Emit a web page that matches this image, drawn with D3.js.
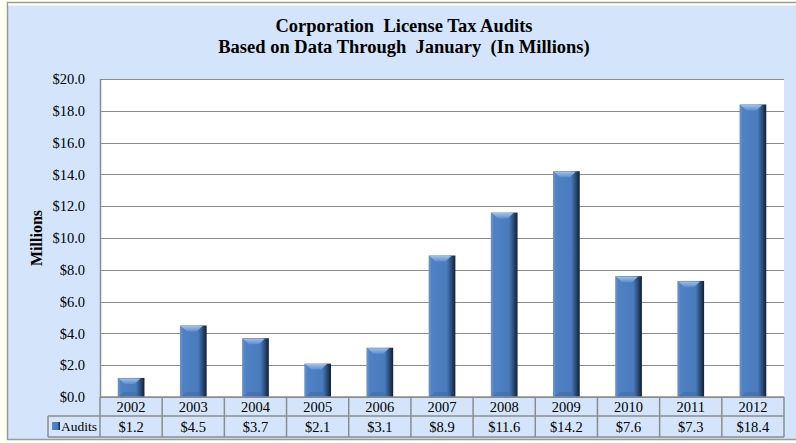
<!DOCTYPE html>
<html>
<head>
<meta charset="utf-8">
<script src="https://cdn.jsdelivr.net/npm/d3@7"></script>
<style>
  body { margin: 0; background: #fffff2; }
  svg { display: block; }
  text { font-family: "Liberation Serif", "Times New Roman", serif; fill: #000; }
</style>
</head>
<body>
<div id="chart"></div>
<script>
const years = ["2002","2003","2004","2005","2006","2007","2008","2009","2010","2011","2012"]
const audits = [1.2, 4.5, 3.7, 2.1, 3.1, 8.9, 11.6, 14.2, 7.6, 7.3, 18.4]
const yTicks = [0, 2, 4, 6, 8, 10, 12, 14, 16, 18, 20]
const titleLines = ["Corporation  License Tax Audits", "Based on Data Through  January  (In Millions)"]
const seriesName = "Audits"

const W = 796, H = 443
const plot = {left: 100, right: 784, top: 79, bottom: 397}
const rowH1 = 19, rowH2 = 21, legendLeft = 48

const svg = d3.select("#chart").append("svg")
  .attr("width", W).attr("height", H)

const defs = svg.append("defs")
let grad = defs.append("linearGradient").attr("id", "barGrad")
  .attr("x1", 0).attr("x2", 1).attr("y1", 0).attr("y2", 0)
grad.append("stop").attr("offset", "0%").attr("stop-color", "#6a97d2")
grad.append("stop").attr("offset", "12%").attr("stop-color", "#4f81c4")
grad.append("stop").attr("offset", "68%").attr("stop-color", "#4a7bbd")
grad.append("stop").attr("offset", "84%").attr("stop-color", "#2c4f7a")
grad.append("stop").attr("offset", "100%").attr("stop-color", "#121f33")

let capGrad = defs.append("linearGradient").attr("id", "capGrad")
  .attr("x1", 0).attr("x2", 0).attr("y1", 0).attr("y2", 1)
capGrad.append("stop").attr("offset", "0%").attr("stop-color", "#a9c8f0")
capGrad.append("stop").attr("offset", "100%").attr("stop-color", "#5f90d0")

// chart frame
svg.append("rect")
  .attr("x", 7.5).attr("y", 2.5).attr("width", W).attr("height", 437)
  .attr("fill", "#d4e5fb").attr("stroke", "#9a9a9a").attr("stroke-width", 1.5)
svg.append("line")
  .attr("x1", 8).attr("x2", W).attr("y1", 4.5).attr("y2", 4.5)
  .attr("stroke", "#ffffff").attr("stroke-width", 2)

// title
svg.append("text")
  .attr("text-anchor", "middle")
  .style("font-weight", "bold").style("font-size", "18.5px").style("white-space", "pre")
  .selectAll("tspan").data(titleLines).join("tspan")
  .attr("x", 404).attr("y", (d, i) => 32 + i * 20.5)
  .text(d => d)

// scales
const x = d3.scaleBand().domain(years).range([plot.left, plot.right])
const y = d3.scaleLinear().domain([0, 20]).range([plot.bottom, plot.top])

svg.append("rect")
  .attr("x", plot.left).attr("y", plot.top)
  .attr("width", plot.right - plot.left).attr("height", plot.bottom - plot.top)
  .attr("fill", "#fff")

// gridlines
svg.append("g").selectAll("line").data(yTicks).join("line")
  .attr("x1", plot.left).attr("x2", plot.right)
  .attr("y1", d => Math.round(y(d)) + 0.5).attr("y2", d => Math.round(y(d)) + 0.5)
  .attr("stroke", "#8c8c8c").attr("stroke-width", 1)

// y axis
const yAxis = d3.axisLeft(y).tickValues(yTicks).tickSize(0).tickPadding(15)
  .tickFormat(d => "$" + d.toFixed(1))
const yg = svg.append("g").attr("transform", `translate(${plot.left},0)`).call(yAxis)
yg.select(".domain").remove()
yg.selectAll("text").style("font-size", "14.5px")
  .style("font-family", "'Liberation Serif', serif")
svg.append("line")
  .attr("x1", plot.left + 0.5).attr("x2", plot.left + 0.5)
  .attr("y1", plot.top).attr("y2", plot.bottom)
  .attr("stroke", "#8c8c8c").attr("stroke-width", 1.5)

svg.append("text")
  .attr("transform", `translate(42,${(plot.top + plot.bottom) / 2}) rotate(-90)`)
  .attr("text-anchor", "middle")
  .style("font-weight", "bold").style("font-size", "16px")
  .text("Millions")

// bars
const bw = x.bandwidth() * 0.43
const bars = svg.append("g").selectAll("g").data(audits).join("g")
  .attr("transform", (d, i) => `translate(${x(years[i]) + (x.bandwidth() - bw) / 2},0)`)
bars.append("rect")
  .attr("x", 0).attr("y", d => y(d))
  .attr("width", bw).attr("height", d => plot.bottom - y(d))
  .attr("fill", "url(#barGrad)")
bars.append("path")
  .attr("d", d => {
    let t = y(d), c = 6
    return `M1,${t + 0.5} L${bw - 4},${t + 0.5} L${bw - 4 - c},${t + c} L${1 + c},${t + c} Z`
  })
  .attr("fill", "url(#capGrad)").attr("opacity", 0.9)
bars.append("path")
  .attr("d", d => {
    let b = plot.bottom, c = 5
    return `M1,${b} L${bw - 4},${b} L${bw - 4 - c},${b - c} L${1 + c},${b - c} Z`
  })
  .attr("fill", "#3f6ca6").attr("opacity", 0.6)

// data table
const tbl = svg.append("g").attr("fill", "none").attr("stroke", "#8c8c8c").attr("stroke-width", 1.5)
const r1 = plot.bottom, r2 = plot.bottom + rowH1, r3 = r2 + rowH2
tbl.append("line").attr("x1", plot.left).attr("x2", plot.right).attr("y1", r1).attr("y2", r1)
tbl.append("line").attr("x1", legendLeft).attr("x2", plot.right).attr("y1", r2).attr("y2", r2)
tbl.append("line").attr("x1", legendLeft).attr("x2", plot.right).attr("y1", r3).attr("y2", r3)
tbl.append("line").attr("x1", legendLeft).attr("x2", legendLeft).attr("y1", r2).attr("y2", r3)
tbl.selectAll(".v").data(years.concat(["end"])).join("line").attr("class", "v")
  .attr("x1", d => d === "end" ? plot.right : x(d))
  .attr("x2", d => d === "end" ? plot.right : x(d))
  .attr("y1", r1).attr("y2", r3)

svg.append("g").selectAll("text").data(years).join("text")
  .attr("x", d => x(d) + x.bandwidth() / 2).attr("y", r1 + 14.5)
  .attr("text-anchor", "middle").style("font-size", "14.5px")
  .text(d => d)
svg.append("g").selectAll("text").data(audits).join("text")
  .attr("x", (d, i) => x(years[i]) + x.bandwidth() / 2).attr("y", r2 + 15.5)
  .attr("text-anchor", "middle").style("font-size", "14.5px")
  .text(d => "$" + d.toFixed(1))

svg.append("rect")
  .attr("x", legendLeft + 4).attr("y", r2 + 6).attr("width", 8).attr("height", 8)
  .attr("fill", "url(#barGrad)")
svg.append("text")
  .attr("x", legendLeft + 13).attr("y", r2 + 15)
  .style("font-size", "13.5px")
  .text(seriesName)
</script>
</body>
</html>
